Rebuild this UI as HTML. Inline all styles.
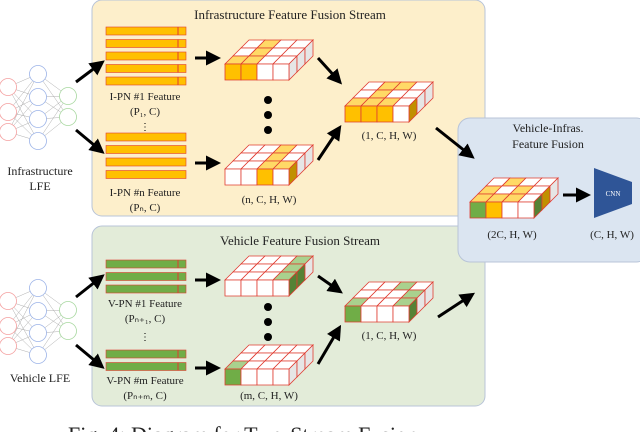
<!DOCTYPE html>
<html><head><meta charset="utf-8"><style>
body{margin:0;background:#fff;}
svg{display:block;font-family:"Liberation Serif",serif;}
</style></head><body>
<svg id="s" width="640" height="432" viewBox="0 0 640 432" xmlns="http://www.w3.org/2000/svg">
<defs><marker id="ah" markerWidth="6" markerHeight="6" refX="3" refY="3" orient="auto" markerUnits="strokeWidth"><path d="M0,0.5 L5,3 L0,5.5 z" fill="#000"/></marker></defs>
<rect x="92" y="0" width="393" height="216" rx="10" fill="#fdefcb" stroke="#b8c4d8" stroke-width="1"/>
<rect x="92" y="226" width="393" height="180" rx="10" fill="#e3ecd9" stroke="#b8c4d8" stroke-width="1"/>
<rect x="458" y="118" width="190" height="144" rx="12" fill="#dbe5f1" stroke="#b8c4d8" stroke-width="1"/>
<text x="290" y="19" font-size="13" text-anchor="middle" fill="#222">Infrastructure Feature Fusion Stream</text>
<text x="300" y="245" font-size="13" text-anchor="middle" fill="#222">Vehicle Feature Fusion Stream</text>
<text x="548" y="132" font-size="12" text-anchor="middle" fill="#222">Vehicle-Infras.</text>
<text x="548" y="148" font-size="12" text-anchor="middle" fill="#222">Feature Fusion</text>
<g font-size="11" fill="#222" text-anchor="middle">
<text x="145" y="100">I-PN #1 Feature</text><text x="145" y="115">(P₁, C)</text>
<text x="145" y="196">I-PN #n Feature</text><text x="145" y="211">(Pₙ, C)</text>
<text x="145" y="307">V-PN #1 Feature</text><text x="145" y="322">(Pₙ₊₁, C)</text>
<text x="145" y="384">V-PN #m Feature</text><text x="145" y="399">(Pₙ₊ₘ, C)</text>
<text x="269" y="203">(n, C, H, W)</text>
<text x="389" y="139">(1, C, H, W)</text>
<text x="269" y="399">(m, C, H, W)</text>
<text x="389" y="339">(1, C, H, W)</text>
<text x="512" y="238">(2C, H, W)</text>
<text x="612" y="238">(C, H, W)</text>
<text x="40" y="175" font-size="12">Infrastructure</text>
<text x="40" y="190" font-size="12">LFE</text>
<text x="40" y="382" font-size="12">Vehicle LFE</text>
</g>
<text x="68" y="442" font-size="22" fill="#222">Fig. 4: Diagram for Two-Stream Fusion</text>
<g id="dyn"></g>
<polygon points="594,168 632,182 632,204 594,218" fill="#2f5597"/>
<text x="613" y="196" font-size="7" fill="#fff" text-anchor="middle">CNN</text>
</svg>
<script>
var g=document.getElementById('dyn'),h='';
function L(x1,y1,x2,y2,w){h+='<line x1="'+x1+'" y1="'+y1+'" x2="'+x2+'" y2="'+y2+'" stroke="#000" stroke-width="'+(w||3)+'" marker-end="url(#ah)"/>';}
function P(pts,f,s){h+='<polygon points="'+pts.map(p=>p.join(',')).join(' ')+'" fill="'+f+'" stroke="'+(s||'#e03c31')+'" stroke-width="0.8"/>';}
function net(oy){
 var R=[[8,87],[8,112],[8,132]],B=[[38,74],[38,97],[38,119],[38,141]],G=[[68,96],[68,117]];
 R.forEach(a=>B.forEach(b=>h+='<line x1="'+a[0]+'" y1="'+(a[1]+oy)+'" x2="'+b[0]+'" y2="'+(b[1]+oy)+'" stroke="#999" stroke-width="0.4"/>'));
 B.forEach(a=>G.forEach(b=>h+='<line x1="'+a[0]+'" y1="'+(a[1]+oy)+'" x2="'+b[0]+'" y2="'+(b[1]+oy)+'" stroke="#999" stroke-width="0.4"/>'));
 R.forEach(a=>h+='<circle cx="'+a[0]+'" cy="'+(a[1]+oy)+'" r="8.5" fill="#fff" stroke="#f4a0a0" stroke-width="0.8"/>');
 B.forEach(a=>h+='<circle cx="'+a[0]+'" cy="'+(a[1]+oy)+'" r="8.5" fill="#fff" stroke="#9db4e8" stroke-width="0.8"/>');
 G.forEach(a=>h+='<circle cx="'+a[0]+'" cy="'+(a[1]+oy)+'" r="8.5" fill="#fff" stroke="#a8d8a0" stroke-width="0.8"/>');
}
net(0);net(214);
function bars(y,n,col,step,full){for(var i=0;i<n;i++){var yy=y+i*step;h+='<rect x="106" y="'+yy+'" width="80" height="8" fill="'+col+'" stroke="#e03c31" stroke-width="0.6"/>';if(!full)h+='<line x1="178" y1="'+yy+'" x2="178" y2="'+(yy+8)+'" stroke="#e03c31" stroke-width="1"/>';}}
bars(27,5,'#ffc000',12.5,false);bars(133,4,'#ffc000',12.5,true);
bars(260,3,'#70ad47',12.5,false);bars(350,2,'#70ad47',12.5,false);
h+='<text x="145" y="130" font-size="10" text-anchor="middle">⋮</text><text x="145" y="340" font-size="10" text-anchor="middle">⋮</text>';
var C={o:['#ffc000','#ffd966','#c09000'],g:['#70ad47','#a9d18e','#548235'],w:['#fff','#fff','#e6e6e6']};
function cube(x0,y0,front,top,side){
 var w=16,hh=16,dx=8,dy=-8,yt=y0-hh;
 for(var r=2;r>=0;r--)for(var c=0;c<4;c++){var k=top[r][c];var X=x0+c*w+r*dx,Y=yt+r*dy;P([[X,Y],[X+w,Y],[X+w+dx,Y+dy],[X+dx,Y+dy]],C[k][1]);}
 for(var r=0;r<3;r++){var k=side[r];var X=x0+4*w+r*dx,Y=yt+r*dy;P([[X,Y],[X+dx,Y+dy],[X+dx,Y+dy+hh],[X,Y+hh]],C[k][2]);}
 for(var c=0;c<4;c++){var k=front[c];P([[x0+c*w,yt],[x0+c*w+w,yt],[x0+c*w+w,y0],[x0+c*w,y0]],C[k][0]);}
}
cube(225,80,['o','o','w','w'],[['o','o','w','w'],['w','o','w','w'],['w','o','w','w']],['w','w','w']);
cube(225,185,['w','w','o','w'],[['w','w','o','o'],['w','w','o','w'],['w','w','o','w']],['o','w','w']);
cube(345,122,['o','o','o','w'],[['o','o','o','w'],['w','o','w','w'],['w','o','o','w']],['o','w','w']);
cube(225,296,['w','w','w','w'],[['w','w','w','g'],['w','w','w','g'],['w','w','w','g']],['g','g','w']);
cube(225,385,['g','w','w','w'],[['g','w','w','w'],['w','w','w','w'],['w','w','w','w']],['w','w','w']);
cube(345,322,['g','w','w','w'],[['g','w','w','g'],['w','w','w','g'],['w','w','g','w']],['g','w','w']);
cube(470,218,['g','o','w','w'],[['o','o','o','w'],['o','w','o','w'],['w','o','w','w']],['g','o','w']);
L(76,82,100,64);L(76,130,100,150);L(76,297,100,278);L(76,345,100,365);
L(195,58,215,58);L(195,163,215,163);L(195,280,215,280);L(195,368,215,368);
L(318,58,338,80);L(318,160,338,130);L(318,276,338,290);L(318,364,338,330);
L(436,128,470,155);L(438,317,470,296);L(563,195,585,195);
h+='<circle cx="268" cy="100" r="4"/><circle cx="268" cy="115" r="4"/><circle cx="268" cy="130" r="4"/>';
h+='<circle cx="268" cy="307" r="4"/><circle cx="268" cy="322" r="4"/><circle cx="268" cy="337" r="4"/>';
g.innerHTML=h;
</script>
</body></html>
